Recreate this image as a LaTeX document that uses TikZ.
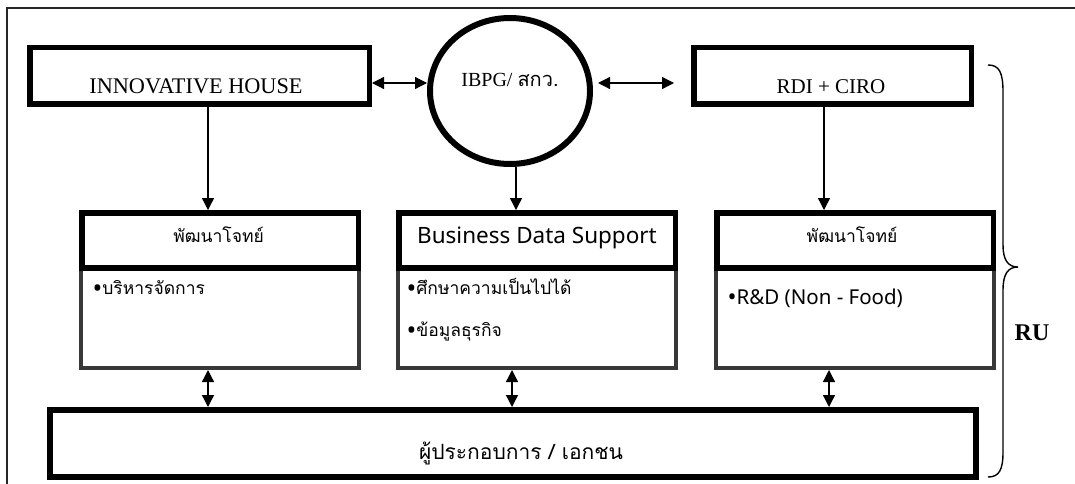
\documentclass[tikz,border=0pt]{standalone}
\usepackage{fontspec}
\setmainfont{Liberation Serif}
\newfontfamily\thai[Script=Thai]{Loma}
\newfontfamily\sansf{Noto Sans}
\usetikzlibrary{arrows.meta,shapes.geometric}
\newcommand{\bul}{{\sansf\fontsize{26}{20}\selectfont\raisebox{-3.5pt}{•}}}
\begin{document}
\begin{tikzpicture}[x=1pt,y=-1pt,
  thickbox/.style={draw, line width=5.5pt, inner sep=0pt, fill=white},
  hatchbox/.style={draw=black!78, line width=4pt, inner sep=0pt, fill=white},
  arr/.style={line width=1.3pt, -{Triangle[length=12pt,width=12pt]}},
  biarr/.style={line width=1.3pt, {Triangle[length=12pt,width=12pt]}-{Triangle[length=12pt,width=12pt]}},
  toptext/.style={anchor=base, font=\fontsize{21}{24}\selectfont},
  thaihead/.style={anchor=base, font=\thai\fontsize{17.5}{20}\selectfont},
  thaibullet/.style={anchor=base west, font=\thai\fontsize{17.5}{20}\selectfont},
]
\useasboundingbox (0,0) rectangle (1075,484);
% outer frame
\draw[line width=1.6pt, black!85] (7,490) -- (7,8) -- (1080,8);

% top row
\node[thickbox, minimum width=339.5pt, minimum height=56.5pt] (ih) at (199.5,76) {};
\node[thickbox, minimum width=277.5pt, minimum height=56.5pt] (rdi) at (832.5,76) {};
\node[ellipse, draw, line width=6pt, inner sep=0pt, minimum width=160pt, minimum height=146pt] (ibpg) at (510,91) {};
\node[anchor=base, font=\fontsize{22.3}{24}\selectfont] (iht) at (196,94) {INNOVATIVE HOUSE};
\node[toptext] (rdit) at (831,94) {RDI + CIRO};
\node[anchor=base, font=\fontsize{20}{24}\selectfont] (ibpgt) at (510,87) {IBPG/ {\thai สกว.}};

% lower boxes: bottom (hatched) parts first
\node[hatchbox, minimum width=278pt, minimum height=100pt] (llb) at (220,318) {};
\node[hatchbox, minimum width=278pt, minimum height=100pt] (mlb) at (537,318) {};
\node[hatchbox, minimum width=278pt, minimum height=100pt] (rlb) at (855,318) {};
% top parts
\node[thickbox, minimum width=276.5pt, minimum height=55.25pt] (llt) at (220,240.4) {};
\node[thickbox, minimum width=276.5pt, minimum height=55.25pt] (mlt) at (537,240.4) {};
\node[thickbox, minimum width=276.5pt, minimum height=55.25pt] (rlt) at (855,240.4) {};

\node[thaihead] (llh) at (218.6,242) {พัฒนาโจทย์};
\node[anchor=base, font=\sansf\fontsize{22.5}{26}\selectfont] (mlh) at (537,243) {Business Data Support};
\node[thaihead] (rlh) at (852,242) {พัฒนาโจทย์};

\node[thaibullet] (b1) at (89,294) {\bul บริหารจัดการ};
\node[thaibullet] (b2) at (403,294) {\bul ศึกษาความเป็นไปได้};
\node[thaibullet] (b3) at (403,336) {\bul ข้อมูลธุรกิจ};
\node[anchor=base west, font=\sansf\fontsize{20.5}{24}\selectfont] (b4) at (724,304) {{\fontsize{24}{24}\selectfont\raisebox{-1.5pt}{•}}R\&D (Non - Food)};

% bottom box
\node[draw, line width=6pt, inner sep=0pt, minimum width=926pt, minimum height=67pt] (bot) at (513,443.5) {};
\node[anchor=base, font=\thai\fontsize{21}{24}\selectfont] (bott) at (521,459) {ผู้ประกอบการ / เอกชน};

% helper x positions
\coordinate (xa) at (208,0);
\coordinate (xb) at (516,0);
\coordinate (xc) at (824,0);
\coordinate (xm) at (512,0);
\coordinate (xr) at (829,0);
\coordinate (ya) at (0,83);

% connectors
\draw[biarr] (ih.east |- ya) -- ([yshift=8pt]ibpg.west);
\draw[biarr] ([xshift=5pt,yshift=8pt]ibpg.east) -- ([xshift=-17pt]rdi.west |- ya);
\draw[arr] (ih.south -| xa) -- (llt.north -| xa);
\draw[arr] (ibpg.south -| xb) -- (mlt.north -| xb);
\draw[arr] (rdi.south -| xc) -- (rlt.north -| xc);
\draw[biarr] (llb.south -| xa) -- (bot.north -| xa);
\draw[biarr] (mlb.south -| xm) -- (bot.north -| xm);
\draw[biarr] (rlb.south -| xr) -- (bot.north -| xr);

% brace
\draw[line width=1.4pt] (988,65) .. controls (999,65) and (1003,72) .. (1003,92)
  -- (1003,245) .. controls (1003,260) and (1008,267) .. (1018,267)
  .. controls (1008,267) and (1003,274) .. (1003,290)
  -- (1003,452) .. controls (1003,470) and (999,477) .. (988,477);
\node[font=\bfseries\fontsize{24}{28}\selectfont] (ru) at (1032,333) {RU};
\end{tikzpicture}
\end{document}
